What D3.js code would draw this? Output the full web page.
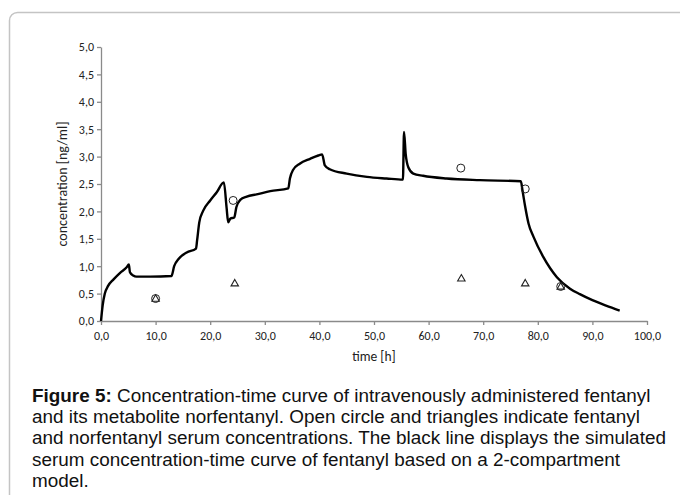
<!DOCTYPE html>
<html>
<head>
<meta charset="utf-8">
<script src="https://cdn.jsdelivr.net/npm/d3@7"></script>
<style>
  body { margin: 0; background: #fff; }
  svg { display: block; }
</style>
</head>
<body>
<svg width="680" height="495"></svg>
<script>
// simulated curve (black line)
var curveTime = [0, 0.3, 0.7, 1.3, 2.3, 3.5, 4.7, 5.1, 5.3, 5.9, 6.5, 9.0, 12.9, 13.4, 14.2, 15.7, 17.4, 17.6, 18.0, 18.7, 20.0, 21.2, 22.5,
                 23.0, 23.3, 23.7, 24.4, 24.8, 25.5, 26.7, 28.5, 31.0, 34.3, 34.6, 35.2, 36.4, 38.3, 39.8, 40.5, 41.0, 41.9, 45.0,
                 48.7, 52.3, 55.3, 55.5, 55.8, 56.3, 57.2, 59.0, 63.3, 69.4, 76.9, 77.2, 77.7, 78.3, 79.2, 81.0, 83.5, 85.9, 87.7,
                 90.0, 92.5, 95.0];
var curveConc = [0, 0.28, 0.5, 0.64, 0.76, 0.88, 0.98, 1.03, 0.89, 0.83, 0.81, 0.81, 0.82, 1.0, 1.13, 1.25, 1.32, 1.47, 1.80, 2.01, 2.20, 2.35, 2.53,
                 2.07, 1.80, 1.87, 1.89, 2.08, 2.21, 2.27, 2.31, 2.37, 2.42, 2.60, 2.76, 2.87, 2.96, 3.02, 3.04, 2.84, 2.77, 2.69,
                 2.63, 2.60, 2.58, 3.45, 3.05, 2.80, 2.69, 2.65, 2.60, 2.57, 2.55, 2.38, 2.08, 1.78, 1.54, 1.17, 0.80, 0.59, 0.49,
                 0.38, 0.28, 0.19];

// measured fentanyl (circles) and norfentanyl (triangles)
var fentTime = [10.0, 24.2, 65.9, 77.7, 84.2];
var fentConc = [0.41, 2.20, 2.79, 2.41, 0.63];
var norTime = [10.0, 24.5, 66.0, 77.7, 84.2];
var norConc = [0.40, 0.68, 0.77, 0.68, 0.62];

var xTicks = [0, 10, 20, 30, 40, 50, 60, 70, 80, 90, 100];
var yTicks = [0, 0.5, 1, 1.5, 2, 2.5, 3, 3.5, 4, 4.5, 5];

var captionLines = [
  ["Figure 5:", " Concentration-time curve of intravenously administered fentanyl"],
  ["", "and its metabolite norfentanyl. Open circle and triangles indicate fentanyl"],
  ["", "and norfentanyl serum concentrations. The black line displays the simulated"],
  ["", "serum concentration-time curve of fentanyl based on a 2-compartment"],
  ["", "model."]
];

var svg = d3.select("svg");
var fmt = function(d) { return d3.format(".1f")(d).replace(".", ","); };
var tickFont = "Carlito, 'Open Sans', 'Liberation Sans', sans-serif";

// outer frame
svg.append("rect")
  .attr("x", 9.5).attr("y", 12.5)
  .attr("width", 700).attr("height", 520)
  .attr("rx", 8)
  .attr("fill", "none")
  .attr("stroke", "#c4c4c4")
  .attr("stroke-width", 1.5);

var x = d3.scaleLinear().domain([0, 100]).range([101, 647]);
var y = d3.scaleLinear().domain([0, 5]).range([321, 47]);

var axisColor = "#8a8a8a";

var gx = svg.append("g")
  .attr("transform", "translate(0," + y(0) + ")")
  .call(d3.axisBottom(x).tickValues(xTicks).tickFormat(fmt).tickSize(4).tickSizeOuter(0));
var gy = svg.append("g")
  .attr("transform", "translate(" + x(0) + ",0)")
  .call(d3.axisLeft(y).tickValues(yTicks).tickFormat(fmt).tickSize(4).tickSizeOuter(0));

[gx, gy].forEach(function(g) {
  g.select(".domain").attr("stroke", axisColor).attr("stroke-width", 1.3);
  g.selectAll(".tick line").attr("stroke", axisColor).attr("stroke-width", 1.3);
  g.selectAll(".tick text")
    .attr("fill", "#222")
    .style("font-family", tickFont)
    .style("font-size", "12px");
});
gx.selectAll(".tick text").attr("dy", "1.0em");
gy.selectAll(".tick text").attr("x", -7);

svg.append("text")
  .attr("x", (x(0) + x(100)) / 2)
  .attr("y", 361)
  .attr("text-anchor", "middle")
  .style("font-family", tickFont)
  .style("font-size", "13.5px")
  .attr("fill", "#222")
  .text("time [h]");

svg.append("text")
  .attr("transform", "translate(67," + y(2.5) + ") rotate(-90)")
  .attr("text-anchor", "middle")
  .style("font-family", tickFont)
  .style("font-size", "14px")
  .attr("fill", "#222")
  .text("concentration [ng/ml]");

// simulated line
var curve = curveTime.map(function(t, i) { return [t, curveConc[i]]; });
svg.append("path")
  .datum(curve)
  .attr("fill", "none")
  .attr("stroke", "#000")
  .attr("stroke-width", 2.4)
  .attr("stroke-linejoin", "round")
  .attr("d", d3.line().x(d => x(d[0])).y(d => y(d[1])).curve(d3.curveMonotoneX));

// circles
svg.selectAll(".fent")
  .data(fentTime.map(function(t, i) { return [t, fentConc[i]]; }))
  .enter().append("circle")
  .attr("class", "fent")
  .attr("cx", d => x(d[0]))
  .attr("cy", d => y(d[1]))
  .attr("r", 4)
  .attr("fill", "none")
  .attr("stroke", "#222")
  .attr("stroke-width", 1);

// triangles
var tri = d3.symbol().type(d3.symbolTriangle).size(24);
svg.selectAll(".nor")
  .data(norTime.map(function(t, i) { return [t, norConc[i]]; }))
  .enter().append("path")
  .attr("class", "nor")
  .attr("transform", d => "translate(" + x(d[0]) + "," + y(d[1]) + ")")
  .attr("d", tri)
  .attr("fill", "none")
  .attr("stroke", "#222")
  .attr("stroke-width", 1.1);

// caption
var cap = svg.append("text")
  .style("font-family", "'Liberation Sans', Arial, sans-serif")
  .style("font-size", "18.9px")
  .attr("fill", "#111");
captionLines.forEach(function(l, i) {
  var line = cap.append("tspan").attr("x", 32).attr("y", 402 + i * 21.2);
  if (l[0]) line.append("tspan").style("font-weight", "bold").text(l[0]);
  line.append("tspan").text(l[1]);
});
</script>
</body>
</html>
